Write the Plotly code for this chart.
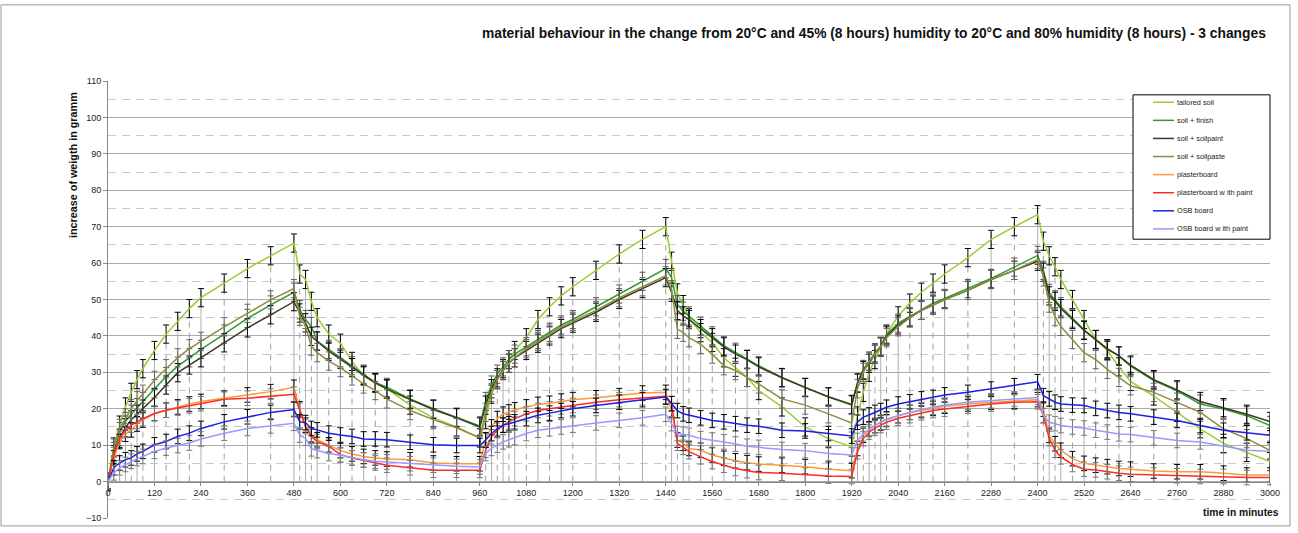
import plotly.graph_objects as go

# ---------------- data ----------------
TIME = [0, 15, 30, 45, 60, 75, 90, 120, 150, 180, 210, 240, 300, 360, 420, 480,
        495, 510, 525, 540, 570, 600, 630, 660, 690, 720, 780, 840, 900, 960,
        975, 990, 1005, 1020, 1035, 1050, 1080, 1110, 1140, 1170, 1200, 1260, 1320, 1380, 1440,
        1455, 1470, 1485, 1500, 1530, 1560, 1590, 1620, 1650, 1680, 1740, 1800, 1860, 1920,
        1935, 1950, 1965, 1980, 1995, 2010, 2040, 2070, 2100, 2130, 2160, 2220, 2280, 2340, 2400,
        2415, 2430, 2445, 2460, 2490, 2520, 2550, 2580, 2610, 2640, 2700, 2760, 2820, 2880, 2940, 3000]

tailored_soil = [0, 9.5, 15.5, 20.5, 24.5, 28, 31, 36, 40.5, 44, 47.5, 50.5, 54.5, 58.5, 62, 65.5,
                 57, 55.5, 49.5, 45, 40.5, 38, 33, 29, 27, 25.5, 21, 17.5, 15, 12,
                 17, 24, 28, 31, 33.5, 36, 39.5, 44.5, 48, 51, 53.5, 58, 62.5, 66.5, 70,
                 60.5, 51.8, 48.6, 45, 40.9, 38.2, 34, 31.4, 28.6, 25, 20.5, 15, 11.8, 9.5,
                 18, 24.5, 30, 33.5, 37, 40.5, 45.5, 49, 52, 54.5, 57, 61.5, 66.5, 70, 73.3,
                 66, 62, 59, 55.5, 50, 44.5, 39, 36, 31.5, 27.5, 23.5, 19, 14.5, 10.5, 8, 5.5]

soil_finish = [0, 8.3, 13.7, 16.5, 18.5, 20.3, 22, 25.5, 28.8, 31.7, 34, 36.3, 40.5, 44.8, 48.5, 52,
               47.2, 44.5, 42.6, 38.6, 36.3, 34, 31.8, 29.5, 27.2, 25.9, 22.7, 20, 17.7, 15.3,
               22, 26.5, 29.5, 31.5, 33.5, 35, 37, 39, 41, 43, 44.5, 48, 51.5, 55, 58.5,
               56, 48.6, 46.8, 45.5, 42.7, 40, 37.3, 35.5, 33.6, 31.8, 28.6, 25.9, 23.2, 21,
               27.2, 30.8, 33.1, 35.4, 37.2, 40.3, 43.5, 45.3, 47.1, 49, 50.3, 53, 55.8, 58.9, 62.1,
               58, 51.7, 49.9, 48, 44.9, 41.7, 39, 36.3, 34.5, 31.7, 27.7, 24.9, 21.3, 19.9, 18.1, 15.4]

soil_soilpaint = [0, 7.4, 11.9, 14.8, 17, 18.5, 19.9, 23.1, 26.5, 29.9, 32, 34, 38.1, 42.2, 45.8, 49.4,
                  46.3, 43.6, 39.9, 38.6, 35.8, 33.6, 31.3, 29.2, 27.2, 25.4, 22.5, 19.8, 17.5, 15,
                  21, 25.5, 28.5, 30.5, 32.5, 34, 36, 38, 40, 42, 43.5, 46.5, 50, 53, 56,
                  52, 47, 45.5, 44.5, 42, 39.5, 37, 35, 33.5, 31.5, 28.5, 25.8, 23.3, 21.2,
                  27, 30.5, 32.5, 35, 37, 40, 43, 45, 47, 48.5, 50, 52.5, 55.5, 58, 60.5,
                  57.5, 51, 49.5, 47.5, 44.5, 41.5, 39, 36.5, 34.5, 32, 28, 25.2, 22, 20.3, 18.5, 16.5]

soil_soilpaste = [0, 9.2, 14.6, 17.5, 20, 22.2, 24, 27.8, 31, 34, 36.5, 38.5, 42.5, 46.2, 49.9, 53,
                  45.4, 42.6, 37.2, 35.4, 33.1, 31.3, 29, 26.8, 25, 22.7, 19.5, 17, 14.8, 12,
                  19, 24.5, 28, 30.5, 32.5, 34, 36.5, 38.5, 40.5, 42.5, 44, 47, 50.5, 53.5, 56.5,
                  52.7, 41.8, 41, 39.5, 37.7, 35, 31.8, 30.5, 28.6, 26.8, 22.7, 21, 18.6, 16.1,
                  25.5, 30, 33, 35, 37, 39.5, 42.5, 45, 47, 48.5, 50, 52.5, 55.5, 58, 61,
                  56.2, 49, 45.3, 42.6, 39, 35.4, 33.5, 30.8, 28.6, 26.3, 24.5, 21.8, 19, 14.5, 11.8, 8.6]

plasterboard = [0, 6.5, 11, 13, 14.2, 15.8, 16.9, 18.7, 19.6, 20.5, 21.3, 22, 22.9, 23.8, 24.7, 25.9,
                20, 15.5, 12.8, 11.5, 10.1, 8.5, 7.6, 6.9, 6.5, 6.2, 6, 5.1, 4.9, 4.9,
                11.4, 15, 17.3, 18.5, 19.1, 19.7, 20.5, 21.2, 21.5, 22.1, 22.5, 23, 23.6, 24.3, 24.5,
                19.5, 11.4, 10.5, 9.1, 8.6, 7.3, 6.4, 5.7, 5.2, 4.8, 4.5, 4.1, 3.4, 3,
                9.1, 12.7, 14.5, 15.4, 16.1, 17.2, 18.1, 19, 19.5, 20.1, 20.7, 21.3, 21.8, 22.1, 22.5,
                19.9, 12.7, 10.4, 8.6, 6.3, 5, 4.5, 4.1, 3.6, 3.4, 2.9, 2.7, 2.7, 2.3, 1.8, 1.8]

plasterboard_paint = [0, 7.4, 11.9, 14, 15.5, 16.5, 17.3, 18.7, 19.6, 20.2, 20.8, 21.4, 22.6, 22.9, 23.5, 24,
                      19.6, 15.1, 12.4, 11, 9.7, 7.4, 6.5, 5.9, 5.1, 4.5, 3.8, 3.1, 3.1, 3.1,
                      8.6, 12.3, 14.1, 15.5, 16.4, 17.3, 18.6, 19.5, 20, 20.5, 20.9, 21.8, 22.5, 23, 23.4,
                      21.4, 10.5, 9.4, 8.2, 6.8, 5.5, 4.5, 3.6, 3, 2.5, 2.3, 1.8, 1.5, 1.4,
                      8.2, 11.8, 13.6, 14.7, 15.4, 16.3, 17.4, 18.1, 18.9, 19.5, 19.9, 20.7, 21.3, 21.8, 21.9,
                      18.1, 11.8, 8.6, 6.8, 4.7, 3.4, 3.2, 2.7, 2.3, 2, 1.8, 1.6, 1.4, 1.4, 1.1, 1.1]

osb_board = [0, 3.8, 5.1, 6, 6.5, 7.6, 8.3, 10.1, 11, 12.4, 13.3, 14.6, 16.4, 17.8, 19, 19.8,
             16.4, 16.2, 14.6, 14.2, 13.3, 12.8, 12.4, 11.7, 11.7, 11.5, 10.8, 10.1, 9.9, 9.9,
             11.4, 13.2, 14.5, 15.5, 15.9, 16.4, 17.3, 18.2, 18.8, 19.5, 20, 20.9, 21.8, 22.5, 23.2,
             21.4, 19.5, 18.6, 18.2, 17.5, 16.8, 16.4, 15.9, 15.5, 15.2, 14.1, 13.9, 13.2, 12.5,
             16.3, 17.7, 18.3, 19, 19.5, 20.4, 21.3, 21.9, 22.7, 23.1, 23.8, 24.5, 25.4, 26.3, 27.4,
             23.6, 22.7, 21.8, 21.3, 21, 20.9, 20.1, 19.5, 19, 18.6, 17.7, 16.8, 15.4, 14.1, 13.4, 12.7]

osb_board_paint = [0, 2.4, 3.8, 4.7, 5.6, 6.3, 6.9, 8.3, 9.2, 9.9, 10.6, 11.7, 13.3, 14.6, 15.3, 16,
                   12.8, 11.9, 9, 8.5, 7.7, 7.2, 6.5, 6, 5.6, 5.4, 4.9, 4.5, 4.2, 4,
                   7.7, 9.1, 10, 10.9, 11.5, 12.1, 13.2, 14.1, 14.5, 15, 15.5, 16.1, 16.8, 17.5, 18.5,
                   15.9, 13.2, 13, 12.7, 11.8, 11.4, 10.9, 10.3, 9.7, 9.4, 8.8, 8.5, 7.7, 7.3,
                   11.3, 13.1, 14.3, 15.4, 16.3, 17, 18.1, 19, 19.8, 20.4, 21, 21.8, 22.2, 22.7, 23.1,
                   18.1, 16.3, 15.9, 15.4, 15, 14.7, 14.1, 13.6, 13.1, 12.9, 12, 11.3, 10.9, 9.8, 8.6, 8.3]

SERIES_NAMES = ["tailored soil", "soil + finish", "soil + soilpaint", "soil + soilpaste",
                "plasterboard", "plasterboard w ith paint", "OSB board", "OSB board w ith paint"]
SERIES_VALUES = [tailored_soil, soil_finish, soil_soilpaint, soil_soilpaste,
                 plasterboard, plasterboard_paint, osb_board, osb_board_paint]
ERRORS = [2.5, 2.5, 2.5, 2.5, 2.0, 2.0, 2.0, 2.0]

Y_TICKS = list(range(-10, 111, 10))
X_TICKS = list(range(0, 3001, 120))

TITLE = ("material behaviour in the change from 20°C and 45% (8 hours) humidity "
         "to 20°C and 80% humidity (8 hours) - 3 changes")

# ---------------- styles ----------------
COLORS = ["#99CC33", "#339933", "#3A3A1E", "#8C8C3C",
          "#FF9933", "#FF2A2A", "#1E1EE6", "#9999FF"]
ERR_COLORS = ["#000000", "#555555", "#000000", "#666666",
              "#000000", "#777777", "#000000", "#777777"]

W, H = 1298, 533
L, R, T, B = 108, 1270, 81, 523   # plot area in pixels


def px(x):
    return (x - L) / (R - L)


def py(y):
    return (B - y) / (B - T)


fig = go.Figure()

# drop lines from the axis up to the highest series value at each time
top = [max(vals[i] for vals in SERIES_VALUES) + 2 for i in range(len(TIME))]
for style in ("dash", "solid"):
    xs, ys = [], []
    for i, t in enumerate(TIME):
        if (i % 2 == 0) == (style == "dash"):
            xs += [t, t, None]
            ys += [0, top[i], None]
    fig.add_trace(go.Scatter(
        x=xs, y=ys, mode="lines", showlegend=False, hoverinfo="skip",
        line=dict(color="#a0a0a0" if style == "dash" else "#b0b0b0", width=1,
                  dash="6px,5px" if style == "dash" else "solid")))

for name, vals, col, ecol, err in zip(SERIES_NAMES, SERIES_VALUES, COLORS, ERR_COLORS, ERRORS):
    fig.add_trace(go.Scatter(
        x=TIME, y=vals, mode="lines", name=name, showlegend=False,
        line=dict(color=col, width=1.5),
        error_y=dict(type="constant", value=err, color=ecol, thickness=1, width=3)))

axis_font = dict(family="Liberation Sans, Arial, sans-serif", size=9, color="#222222")

fig.update_layout(
    width=W, height=H,
    margin=dict(l=L, r=W - R, t=T, b=H - B),
    paper_bgcolor="white", plot_bgcolor="white",
    font=dict(family="Liberation Sans, Arial, sans-serif"),
    showlegend=False,
    xaxis=dict(range=[0, 3000], tickvals=X_TICKS, ticktext=[str(v) for v in X_TICKS],
               showgrid=False, zeroline=False, showline=True, linecolor="#888888",
               linewidth=1, ticks="outside", ticklen=3, tickcolor="#888888",
               anchor="free", position=10 / 120, tickfont=axis_font),
    yaxis=dict(range=[-10, 110], tickvals=Y_TICKS, showgrid=True,
               gridcolor="#aaaaaa", gridwidth=1, zeroline=False,
               showline=True, linecolor="#888888", linewidth=1,
               ticks="outside", ticklen=4, tickcolor="#888888", tickfont=axis_font,
               minor=dict(dtick=5, tick0=-5, showgrid=True, gridcolor="#c8c8c8",
                          griddash="8px,6px", gridwidth=1)),
)

shapes = []
annotations = []

# outer frame
shapes.append(dict(type="rect", xref="paper", yref="paper",
                   x0=px(1), x1=px(1290), y0=py(531), y1=py(4),
                   line=dict(color="#999999", width=1), layer="below"))

# legend box
LEG_X0, LEG_X1, LEG_Y0, LEG_Y1 = 1133, 1270, 95, 241
shapes.append(dict(type="rect", xref="paper", yref="paper",
                   x0=px(LEG_X0), x1=px(LEG_X1), y0=py(LEG_Y1), y1=py(LEG_Y0),
                   line=dict(color="#000000", width=1), fillcolor="white", layer="above"))
for i, (name, col) in enumerate(zip(SERIES_NAMES, COLORS)):
    yy = 102.5 + i * 18.3
    shapes.append(dict(type="line", xref="paper", yref="paper",
                       x0=px(1153), x1=px(1174), y0=py(yy), y1=py(yy),
                       line=dict(color=col, width=1.5), layer="above"))
    annotations.append(dict(xref="paper", yref="paper", x=px(1175), y=py(yy),
                            xanchor="left", yanchor="middle", showarrow=False,
                            text=name, font=dict(size=7.3, color="#222222")))

# title
annotations.append(dict(xref="paper", yref="paper", x=px(1268), y=py(33),
                        xanchor="right", yanchor="middle", showarrow=False,
                        text="<b>" + TITLE + "</b>",
                        font=dict(size=13.8, color="#111111")))
# axis titles
annotations.append(dict(xref="paper", yref="paper", x=px(73), y=py(166),
                        xanchor="center", yanchor="middle", showarrow=False,
                        textangle=-90, text="<b>increase of weigth in gramm</b>",
                        font=dict(size=10.8, color="#111111")))
annotations.append(dict(xref="paper", yref="paper", x=px(1281), y=py(517),
                        xanchor="right", yanchor="middle", showarrow=False,
                        text="<b>time in minutes</b>",
                        font=dict(size=10.3, color="#111111")))

fig.update_layout(shapes=shapes, annotations=annotations)

fig.write_html("out.html")
